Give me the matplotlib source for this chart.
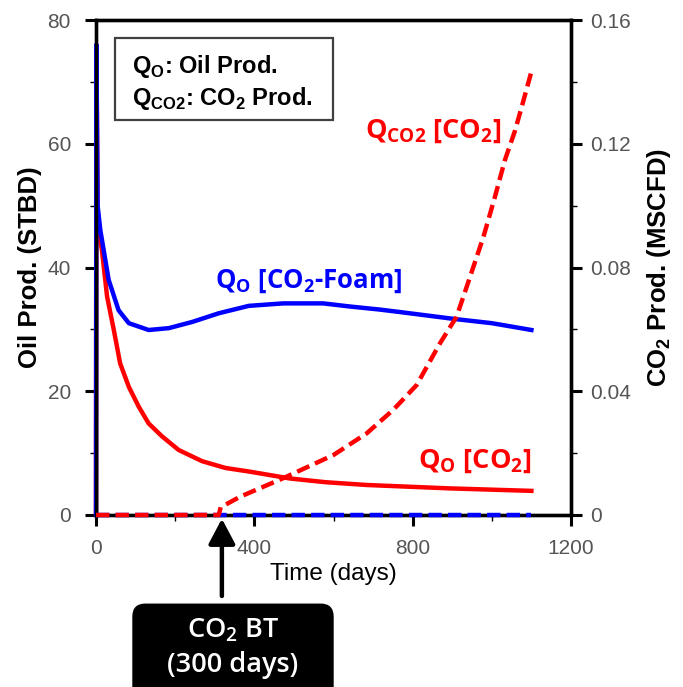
import numpy as np
import matplotlib
matplotlib.use("Agg")
import matplotlib.pyplot as plt
from matplotlib.ticker import MultipleLocator, FuncFormatter
from matplotlib.patches import FancyBboxPatch, Rectangle

# ------------------------------------------------------------
# Production data
# ------------------------------------------------------------

# Oil production, CO2-foam injection (STBD)
t_oil_foam = [0, 1, 4, 11, 32, 57, 83, 133, 184, 243, 310, 386, 473, 574,
              641, 717, 768, 903, 1000, 1100]
q_oil_foam = [0, 76, 50, 46, 38, 33.1, 31, 29.9, 30.2, 31.2, 32.6, 33.8, 34.2, 34.2,
              33.7, 33.2, 32.8, 31.7, 31.0, 29.9]

# Oil production, CO2 injection (STBD)
t_oil_co2 = [0, 1, 4, 7, 15, 28, 45, 61, 83, 108, 133, 167, 209, 268, 327,
             389, 490, 580, 684, 894, 1100]
q_oil_co2 = [0, 76, 50, 46, 42.8, 35.3, 29.9, 24.5, 20.7, 17.5, 14.8, 12.7, 10.5, 8.7, 7.6,
             7.0, 5.9, 5.3, 4.85, 4.3, 3.9]

# CO2 production, CO2 injection (MSCFD)
t_gas_co2 = [0, 310, 315, 364, 473, 600, 684, 751, 810, 869, 911, 945, 979,
             1008, 1033, 1059, 1080, 1101]
q_gas_co2 = [0, 0, 0.0025, 0.0059, 0.0119, 0.0194, 0.0264, 0.034, 0.042, 0.0555,
             0.0641, 0.077, 0.090, 0.1029, 0.1147, 0.1244, 0.134, 0.1438]

# CO2 production, CO2-foam injection (MSCFD)
t_gas_foam = [0, 1100]
q_gas_foam = [0, 0]

BT_DAY = 318

RED = "#ff0000"
BLUE = "#0000ff"
TICK_GRAY = "#555555"
LABEL_FONT = ["Open Sans", "DejaVu Sans"]

plt.rcParams["font.family"] = ["Liberation Sans", "DejaVu Sans"]
plt.rcParams["mathtext.fontset"] = "custom"
plt.rcParams["mathtext.rm"] = "Liberation Sans"
plt.rcParams["mathtext.bf"] = "Liberation Sans:bold"

W, H = 683, 687
fig = plt.figure(figsize=(W / 100, H / 100), dpi=100)
ax = fig.add_axes([96 / W, 1 - 515 / H, 475 / W, 495 / H])
ax2 = ax.twinx()

# oil curves on the left axis
ax.plot(t_oil_co2, q_oil_co2, color=RED, lw=3.2, zorder=3, clip_on=False)
ax.plot(t_oil_foam, q_oil_foam, color=BLUE, lw=3.2, zorder=4, clip_on=False)

# CO2 curves on the right axis
ax2.plot(t_gas_foam, q_gas_foam, color=BLUE, lw=3.2, ls=(0, (3, 1.4)),
         zorder=3, clip_on=False)
ax2.plot(t_gas_co2, q_gas_co2, color=RED, lw=3.2, ls=(0, (3, 1.4)),
         zorder=4, clip_on=False)

ax.set_xlim(0, 1200)
ax.set_ylim(0, 80)
ax2.set_ylim(0, 0.16)

for a in (ax, ax2):
    for sp in a.spines.values():
        sp.set_linewidth(2.4)

ax.xaxis.set_major_locator(MultipleLocator(400))
ax.xaxis.set_minor_locator(MultipleLocator(200))
ax.yaxis.set_major_locator(MultipleLocator(20))
ax.yaxis.set_minor_locator(MultipleLocator(10))
ax2.yaxis.set_major_locator(MultipleLocator(0.04))
ax2.yaxis.set_minor_locator(MultipleLocator(0.02))
ax2.yaxis.set_major_formatter(FuncFormatter(lambda v, p: "%g" % round(v, 4)))

ax.tick_params(axis="y", which="major", direction="out", length=8, width=2.2,
               labelsize=15, labelcolor=TICK_GRAY, pad=10)
ax.tick_params(axis="x", which="major", direction="out", length=8, width=2.2,
               labelsize=15, labelcolor=TICK_GRAY, pad=9)
ax.tick_params(which="minor", direction="out", length=4, width=1)
ax2.tick_params(which="major", direction="out", length=8, width=2.2,
                labelsize=15, labelcolor=TICK_GRAY, pad=6)
ax2.tick_params(which="minor", direction="out", length=4, width=1)

ax.set_xlabel("Time (days)", fontsize=17.5, labelpad=4)
ax.set_ylabel("Oil Prod. (STBD)", fontsize=18.5, fontweight="bold")
ax.yaxis.set_label_coords((42 - 96) / 475, 0.5)
ax2.set_ylabel(r"CO$_\mathregular{2}$ Prod. (MSCFD)", fontsize=18.5,
               fontweight="bold")
ax2.yaxis.set_label_coords((645 - 96) / 475, 0.5)

# note box
ax.add_patch(Rectangle((19 / 475, 395 / 495), 218 / 475, 82 / 495,
                       transform=ax.transAxes, fc="white", ec="#404040",
                       lw=1.6, zorder=5))
ax.text(36 / 475, 442 / 495, "Q$_\\mathregular{O}$: Oil Prod.",
        transform=ax.transAxes, ha="left", va="baseline", fontsize=17,
        fontweight="bold", zorder=6)
ax.text(36 / 475, 410 / 495,
        "Q$_\\mathregular{CO2}$: CO$_\\mathregular{2}$ Prod.",
        transform=ax.transAxes, ha="left", va="baseline", fontsize=17,
        fontweight="bold", zorder=6)

# curve labels
lab_font = dict(fontweight="bold", family=LABEL_FONT, ha="left", va="baseline")
ax.text(300, 36.7, "Q$_\\mathregular{O}$ [CO$_\\mathregular{2}$-Foam]",
        color=BLUE, fontsize=18.5, **lab_font)
ax.text(814, 7.6, "Q$_\\mathregular{O}$ [CO$_\\mathregular{2}$]",
        color=RED, fontsize=19.5, **lab_font)
ax.text(680, 60.9, "Q$_\\mathregular{CO2}$ [CO$_\\mathregular{2}$]",
        color=RED, fontsize=19.5, **lab_font)

# breakthrough marker
box = FancyBboxPatch((133 / W, -0.05), 200 / W, (H - 596) / H + 0.05 - 0.012,
                     boxstyle="round,pad=0,rounding_size=0.018",
                     transform=fig.transFigure, fc="black", ec="black",
                     clip_on=False)
fig.patches.append(box)
fig.text(233 / W, 1 - 637 / H, "CO$_\\mathregular{2}$ BT", color="white",
         ha="center", va="baseline", fontsize=19.5, fontweight="semibold",
         family=LABEL_FONT)
fig.text(233 / W, 1 - 672 / H, "(300 days)", color="white",
         ha="center", va="baseline", fontsize=19.5, fontweight="semibold",
         family=LABEL_FONT)

ax.annotate("", xy=(BT_DAY, -0.6), xycoords="data",
            xytext=(BT_DAY, 1 - 596 / H), textcoords=("data", "figure fraction"),
            arrowprops=dict(arrowstyle="-|>,head_length=0.85,head_width=0.45",
                            mutation_scale=18, color="black", lw=3.2,
                            shrinkA=0, shrinkB=0),
            annotation_clip=False)

fig.savefig("out.png", dpi=100)
